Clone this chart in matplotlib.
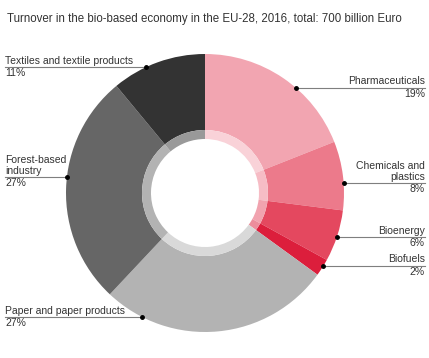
import numpy as np
import matplotlib
matplotlib.use("Agg")
import matplotlib.pyplot as plt

# ---- data ----
categories = ["Pharmaceuticals", "Chemicals and\nplastics", "Bioenergy", "Biofuels",
              "Paper and paper products", "Forest-based\nindustry", "Textiles and textile products"]
shares = [19, 8, 6, 2, 27, 27, 11]
pct_labels = ["19%", "8%", "6%", "2%", "27%", "27%", "11%"]
title = "Turnover in the bio-based economy in the EU-28, 2016, total: 700 billion Euro"

outer_colors = ["#f2a5b1", "#ec7a8b", "#e4485f", "#dc1e3c", "#b3b3b3", "#666666", "#333333"]
inner_colors = ["#f9d2d8", "#f6bcc5", "#f1a3af", "#ec8d9c", "#d9d9d9", "#b3b3b3", "#999999"]

plt.rcParams['font.family'] = ['Liberation Sans', 'DejaVu Sans']

W, H = 429, 358
fig = plt.figure(figsize=(W / 100, H / 100), dpi=100)
ax = fig.add_axes([0, 0, 1, 1])

cx, cy = 205, H - 193
R, r_mid, r_in = 139, 63, 54

ax.pie(shares, colors=outer_colors, radius=R, center=(cx, cy), startangle=90,
       counterclock=False, wedgeprops=dict(width=R - r_mid, linewidth=0), frame=True)
ax.pie(shares, colors=inner_colors, radius=r_mid, center=(cx, cy), startangle=90,
       counterclock=False, wedgeprops=dict(width=r_mid - r_in, linewidth=0), frame=True)
ax.set_xlim(0, W)
ax.set_ylim(0, H)
ax.set_aspect('equal')
ax.axis('off')

txt = "#333333"
lc = "#7f7f7f"
fs = 7.5

# label layout: (line y in px, side)
layout = [
    (88, 'R'),
    (183, 'R'),
    (237, 'R'),
    (266, 'R'),
    (317, 'L'),
    (177, 'L'),
    (67, 'L'),
]
for cat, pct, (ly, side) in zip(categories, pct_labels, layout):
    dy = (H - ly) - cy
    dx = np.sqrt(max(R ** 2 - dy ** 2, 0))
    yd = H - ly
    if side == 'R':
        xd = cx + dx
        ax.plot([xd, 425], [yd, yd], color=lc, lw=0.8, zorder=5)
        ax.plot([xd], [yd], 'o', color='black', ms=2.5, zorder=6)
        ax.text(425, yd + 1.5, cat, ha='right', va='bottom', fontsize=fs, color=txt,
                linespacing=1.1)
        ax.text(425, yd - 1, pct, ha='right', va='top', fontsize=fs, color=txt)
    else:
        xd = cx - dx
        ax.plot([5, xd], [yd, yd], color=lc, lw=0.8, zorder=5)
        ax.plot([xd], [yd], 'o', color='black', ms=2.5, zorder=6)
        ax.text(5, yd + 1.5, cat, ha='left', va='bottom', fontsize=fs, color=txt,
                linespacing=1.1)
        ax.text(5, yd - 1, pct, ha='left', va='top', fontsize=fs, color=txt)

ax.text(7, H - 19, title, ha='left', va='center', fontsize=8.3, color=txt)

fig.savefig("out.png", dpi=100)
